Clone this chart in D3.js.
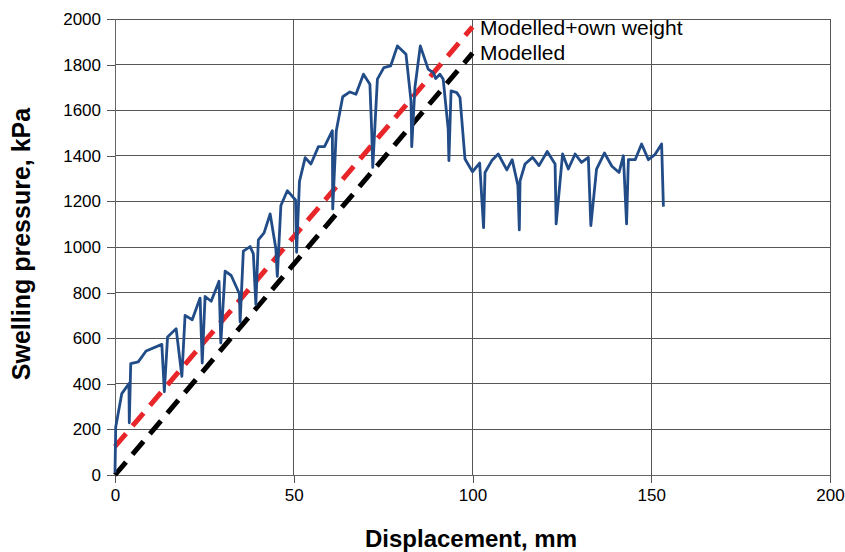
<!DOCTYPE html>
<html><head><meta charset="utf-8">
<script src="https://cdn.jsdelivr.net/npm/d3@7"></script>
<style>
body{margin:0;background:#fff;}
text{font-family:"Liberation Sans",Arial,sans-serif;}
</style></head>
<body><svg id="c" width="845" height="552"></svg>
<script>
// Measured series: [displacement mm, swelling pressure kPa]
const measured = [
[0,10],[0.2,210],[1.9,357],[3.9,401],[4.0,229],[4.4,489],[6.5,496],[8.7,544],[13.1,573],[13.8,365],
[14.7,605],[17.1,642],[18.7,433],[19.6,700],[21.6,681],[23.8,776],[24.4,491],[25.2,783],[26.9,762],
[29.1,850],[29.6,579],[30.8,894],[32.5,875],[34.8,795],[35.0,671],[35.9,982],[37.8,1002],[38.7,970],
[39.4,748],[40.1,1031],[41.7,1062],[43.4,1145],[45.0,992],[45.4,871],[46.4,1182],[48.2,1247],
[50.5,1206],[50.8,977],[51.6,1288],[53.2,1392],[54.8,1364],[56.9,1440],[58.6,1440],[60.8,1510],
[60.9,1167],[61.9,1510],[63.7,1659],[65.7,1680],[67.4,1670],[69.5,1758],[71.3,1714],[71.8,1510],
[72.1,1349],[73.4,1736],[75.2,1787],[77.1,1794],[79.0,1882],[81.4,1845],[82.8,1641],[83.0,1440],
[83.9,1700],[85.4,1882],[87.6,1780],[89.0,1765],[89.7,1739],[90.9,1758],[91.8,1736],[93.2,1517],
[93.4,1379],[94.0,1685],[95.6,1677],[96.5,1656],[97.9,1386],[100.0,1330],[102.0,1368],[103.1,1085],
[103.5,1327],[105.4,1379],[107.2,1408],[109.6,1338],[111.1,1383],[112.7,1270],[113.1,1075],
[113.3,1290],[114.7,1364],[116.8,1393],[118.6,1357],[120.9,1419],[123.1,1364],[123.4,1101],
[125.2,1408],[126.8,1342],[128.7,1408],[130.5,1371],[132.4,1393],[133.1,1094],[134.7,1342],
[136.9,1412],[139.0,1354],[141.0,1327],[142.2,1400],[143.1,1101],[143.6,1383],[145.5,1383],
[147.3,1452],[149.2,1383],[151.0,1405],[152.9,1452],[153.4,1177]
];
const modelledOwnWeight = [[0,125],[100,1965]];
const modelled = [[0,0],[100,1850]];
const xTicks = [0,50,100,150,200];
const yTicks = [0,200,400,600,800,1000,1200,1400,1600,1800,2000];
const legendLabels = ["Modelled+own weight","Modelled"];
const xTitle = "Displacement, mm";
const yTitle = "Swelling pressure, kPa";

const svg = d3.select("#c");
const x = d3.scaleLinear().domain([0,200]).range([115,830]);
const y = d3.scaleLinear().domain([0,2000]).range([475,19]);

// grid
const grid = svg.append("g");
grid.selectAll(".h").data(yTicks).join("line")
  .attr("x1",x(0)).attr("x2",x(200)).attr("y1",d=>y(d)).attr("y2",d=>y(d))
  .attr("stroke","#555").attr("stroke-width",1).attr("shape-rendering","crispEdges");
grid.selectAll(".v").data(xTicks).join("line")
  .attr("x1",d=>x(d)).attr("x2",d=>x(d)).attr("y1",y(0)).attr("y2",y(2000))
  .attr("stroke","#555").attr("stroke-width",1).attr("shape-rendering","crispEdges");

// axes
const xAxis = d3.axisBottom(x).tickValues(xTicks).tickFormat(d3.format("d")).tickSize(8).tickPadding(6);
const yAxis = d3.axisLeft(y).tickValues(yTicks).tickFormat(d3.format("d")).tickSize(8).tickPadding(6);
const gx = svg.append("g").attr("transform",`translate(0,${y(0)})`).call(xAxis);
const gy = svg.append("g").attr("transform",`translate(${x(0)},0)`).call(yAxis);
[gx,gy].forEach(g=>{
  g.attr("font-family",null).attr("font-size",null);
  g.select(".domain").attr("stroke","#666").attr("shape-rendering","crispEdges");
  g.selectAll(".tick line").attr("stroke","#555").attr("shape-rendering","crispEdges");
  g.selectAll(".tick text").attr("font-size",17).attr("fill","#000");
});

const line = d3.line().x(d=>x(d[0])).y(d=>y(d[1]));

svg.append("path").datum(modelled).attr("d",line)
  .attr("fill","none").attr("stroke","#000").attr("stroke-width",5).attr("stroke-dasharray","17,10");
svg.append("path").datum(modelledOwnWeight).attr("d",line)
  .attr("fill","none").attr("stroke","#e8262a").attr("stroke-width",5).attr("stroke-dasharray","17,10");

svg.append("path").datum(measured).attr("d",line)
  .attr("fill","none").attr("stroke","#214c88").attr("stroke-width",2.8).attr("stroke-linejoin","round");

// labels
svg.append("text").attr("x",480).attr("y",28).attr("dy","0.35em").attr("font-size",21).text(legendLabels[0]);
svg.append("text").attr("x",480).attr("y",53).attr("dy","0.35em").attr("font-size",21).text(legendLabels[1]);

svg.append("text").attr("x",471).attr("y",547).attr("text-anchor","middle")
  .attr("font-size",24).attr("font-weight","bold").text(xTitle);
svg.append("text").attr("transform","translate(30,244) rotate(-90)").attr("text-anchor","middle")
  .attr("font-size",25).attr("font-weight","bold").text(yTitle);
</script></body></html>
